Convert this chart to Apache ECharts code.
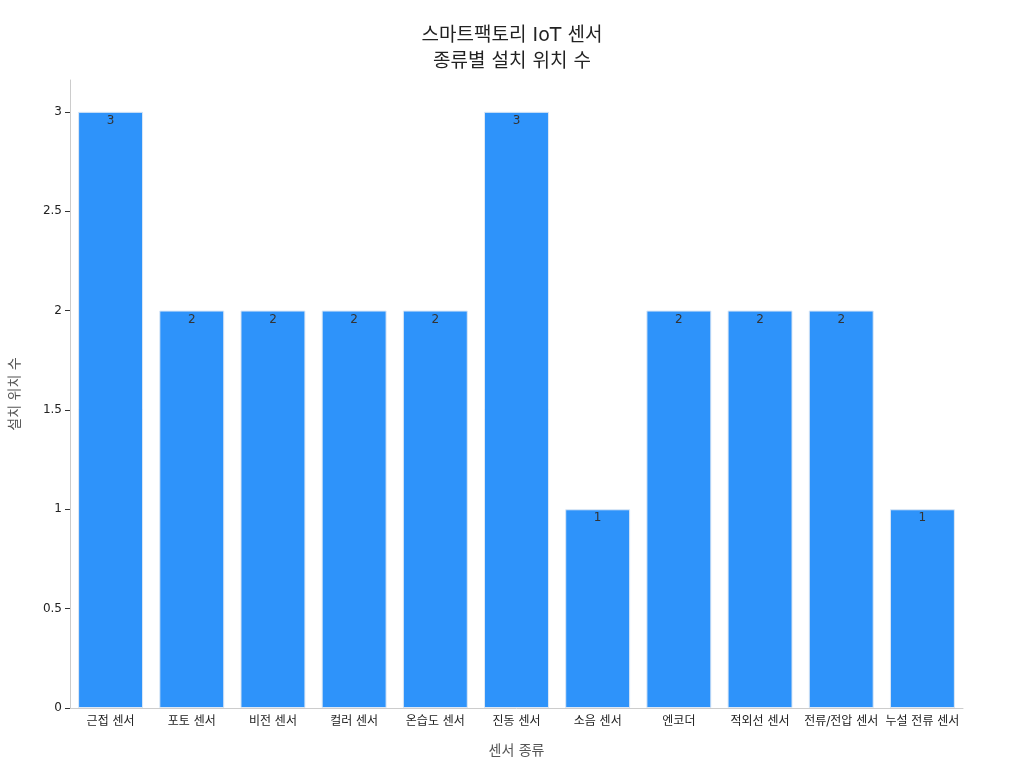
<!DOCTYPE html>
<html><head><meta charset="utf-8">
<script src="https://cdn.jsdelivr.net/npm/echarts@6/dist/echarts.min.js"></script>
<style>html,body{margin:0;padding:0;background:#fff}#c{width:1024px;height:768px}</style>
</head><body><div id="c"></div>
<script>
const categories = ['근접 센서','포토 센서','비전 센서','컬러 센서','온습도 센서','진동 센서','소음 센서','엔코더','적외선 센서','전류/전압 센서','누설 전류 센서'];
const values = [3,2,2,2,2,3,1,2,2,2,1];
const font = 'DejaVu Sans, Noto Sans CJK KR, sans-serif';
const chart = echarts.init(document.getElementById('c'));
chart.setOption({
  textStyle:{fontFamily:font},
  title:{text:'스마트팩토리 IoT 센서\n종류별 설치 위치 수',left:'center',top:18,
    textStyle:{fontFamily:font,fontSize:19,fontWeight:'normal',color:'#222',lineHeight:26}},
  grid:{left:65,right:61,top:80,bottom:60},
  xAxis:{type:'category',data:categories,name:'센서 종류',nameLocation:'middle',nameGap:36,
    nameTextStyle:{fontFamily:font,fontSize:14,color:'#555'},
    axisLine:{lineStyle:{color:'#ccc'}},axisTick:{show:false},
    axisLabel:{fontFamily:font,fontSize:12,color:'#222',interval:0}},
  yAxis:{type:'value',min:0,max:3.16,interval:0.5,name:'설치 위치 수',nameLocation:'middle',nameGap:48,
    nameTextStyle:{fontFamily:font,fontSize:14,color:'#555'},
    axisLine:{show:true,lineStyle:{color:'#ccc'}},axisTick:{show:true,lineStyle:{color:'#333'},length:5},
    splitLine:{show:false},
    axisLabel:{fontFamily:font,fontSize:12,color:'#222',showMaxLabel:false}},
  series:[{type:'bar',data:values,barCategoryGap:'20%',
    itemStyle:{color:'#2E93FA',borderColor:'#dde8f5',borderWidth:1},
    label:{show:true,position:'insideTop',distance:3,color:'#333',fontSize:12,fontFamily:font}}]
});
</script></body></html>
